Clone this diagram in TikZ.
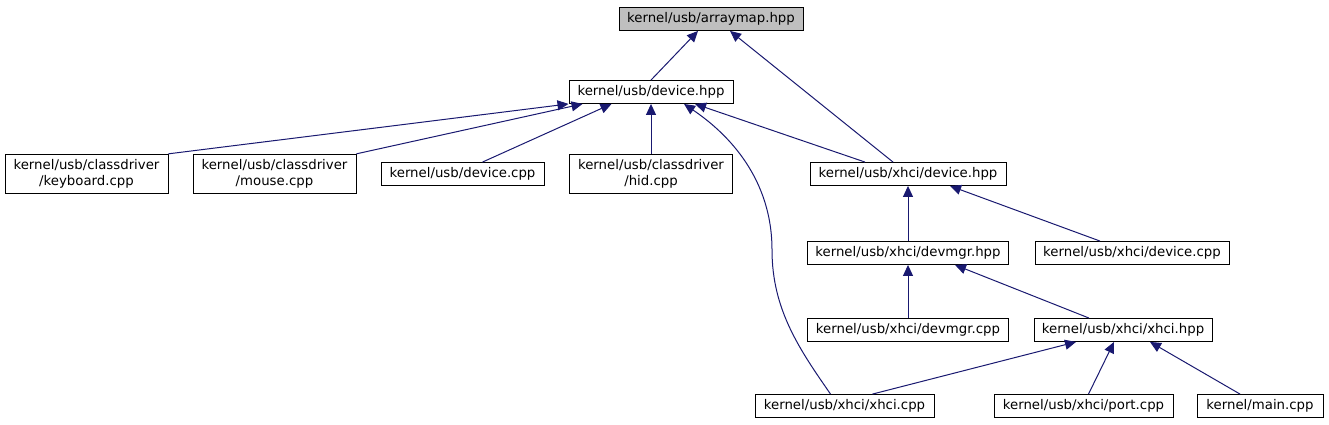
\documentclass[tikz,border=0pt]{standalone}
\usepackage{fontspec}
\setmainfont{DejaVu Sans}
\usepackage{xcolor}
\usepackage{tikz}
\usetikzlibrary{
  arrows.meta,
  positioning,
  calc
}
\definecolor{incEdge}{HTML}{191970}
\definecolor{incRoot}{HTML}{BFBFBF}
\tikzset{
  incnode/.style={
    draw=black, fill=white, line width=1pt, minimum height=22pt, inner xsep=4pt, inner ysep=5pt,
    font=\fontsize{13.3}{16.5}\selectfont, align=center
  },
  incroot/.style={incnode, fill=incRoot},
  incedge/.style={-{Triangle[length=11pt, width=10pt]}, line width=1pt, incEdge}
}
\begin{document}
\begin{tikzpicture}[x=1pt, y=-1pt]
  \useasboundingbox (0,0) rectangle (1329,425);
  \node[incroot, minimum width=184pt] (arr) at (711,19) {kernel/usb/arraymap.hpp};
  \node[incnode, minimum width=164pt] (devh) at (651,92) {kernel/usb/device.hpp};
  \node[incnode, minimum width=163pt] (kbd) at (86.5,174) {kernel/usb/classdriver\\/keyboard.cpp};
  \node[incnode, minimum width=163pt] (mouse) at (274.5,174) {kernel/usb/classdriver\\/mouse.cpp};
  \node[incnode, minimum width=163pt] (devc) at (462.5,174) {kernel/usb/device.cpp};
  \node[incnode, minimum width=163pt] (hid) at (651,174) {kernel/usb/classdriver\\/hid.cpp};
  \node[incnode, minimum width=196pt] (xdevh) at (908,174) {kernel/usb/xhci/device.hpp};
  \node[incnode, minimum width=201pt] (mgrh) at (908,253) {kernel/usb/xhci/devmgr.hpp};
  \node[incnode, minimum width=194pt] (xdevc) at (1132,253) {kernel/usb/xhci/device.cpp};
  \node[incnode, minimum width=201pt] (mgrc) at (908,330) {kernel/usb/xhci/devmgr.cpp};
  \node[incnode, minimum width=178pt] (xhh) at (1123,330) {kernel/usb/xhci/xhci.hpp};
  \node[incnode, minimum width=179pt] (xhc) at (844.5,406) {kernel/usb/xhci/xhci.cpp};
  \node[incnode, minimum width=179pt] (port) at (1083.5,406) {kernel/usb/xhci/port.cpp};
  \node[incnode, minimum width=126pt] (mainc) at (1260,406) {kernel/main.cpp};
  \draw[incedge] (devh.north) -- ([xshift=-13pt]arr.south);
  \draw[incedge] ([xshift=-15pt]xdevh.north) -- ([xshift=19pt]arr.south);
  \draw[incedge] (kbd.north east) -- (devh.south west);
  \draw[incedge] (mouse.north east) -- ([xshift=14pt]devh.south west);
  \draw[incedge] ([xshift=20pt]devc.north) -- ([xshift=43pt]devh.south west);
  \draw[incedge] (hid.north) -- (devh.south);
  \draw[incedge] ([xshift=-43pt]xdevh.north) -- ([xshift=44pt]devh.south);
  \draw[incedge] ([xshift=-14pt]xhc.north) .. controls (800,350) and (772,310) .. (772,250)
    .. controls (772,180) and (730,135) .. ([xshift=33pt]devh.south);
  \draw[incedge] (mgrh.north) -- (xdevh.south);
  \draw[incedge] ([xshift=-32pt]xdevc.north) -- ([xshift=42pt]xdevh.south);
  \draw[incedge] (mgrc.north) -- (mgrh.south);
  \draw[incedge] ([xshift=-34pt]xhh.north) -- ([xshift=47pt]mgrh.south);
  \draw[incedge] ([xshift=28pt]xhc.north) -- ([xshift=-47pt]xhh.south);
  \draw[incedge] ([xshift=5pt]port.north) -- ([xshift=-9pt]xhh.south);
  \draw[incedge] ([xshift=-20pt]mainc.north) -- ([xshift=27pt]xhh.south);
\end{tikzpicture}
\end{document}
